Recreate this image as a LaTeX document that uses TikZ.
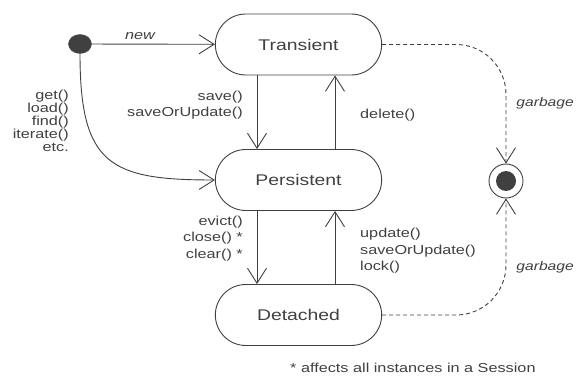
\documentclass[tikz,border=0pt]{standalone}
\usepackage{fontspec}
\setmainfont{Liberation Sans}[FakeStretch=1.25]
\usetikzlibrary{shapes.misc,shapes.geometric,arrows.meta}
\newcommand{\statewidth}{173pt}
\newcommand{\stateheight}{61pt}
\newcommand{\offL}{-41.5pt}
\newcommand{\offR}{36.5pt}

\begin{document}
\begin{tikzpicture}[x=1pt, y=-1pt, color=black!75,
        state/.style={draw, rounded rectangle, line width=0.9pt, minimum width=\statewidth, minimum height=\stateheight, font=\fontsize{15.5}{18}\selectfont},
        lbl/.style={inner sep=0pt, font=\fontsize{13}{16.5}\selectfont},
        arr/.style={-{Straight Barb[length=15pt, width=19pt]}, line width=0.9pt},
        gc/.style={arr, dash pattern=on 4pt off 3pt, rounded corners=50pt}]
        \useasboundingbox (0,0) rectangle (576,377);

        %states
        \node[draw, ellipse, fill, minimum width=23pt, minimum height=19pt, inner sep=0pt, name=init] at (80,44) {};
        \node[state, name=transient ] at (298.5,44.5) {Transient};
        \node[state, name=persistent] at (298.5,180)  {Persistent};
        \node[state, name=detached  ] at (298.5,315)  {Detached};
        \node[draw, circle, line width=0.9pt, minimum size=34pt, inner sep=0pt, name=final] at (506,181) {};
        \node[circle, fill, minimum size=20pt, inner sep=0pt, name=finaldot] at (506,181) {};

        %transitions
        \draw[arr] (init) -- (transient);
        \draw[arr] (init) .. controls (80,165) and (110,180) .. (persistent);
        \draw[arr] ([xshift=\offL]transient.south) -- ([xshift=\offL]persistent.north);
        \draw[arr] ([xshift=\offR]persistent.north) -- ([xshift=\offR]transient.south);
        \draw[arr] ([xshift=\offL]persistent.south) -- ([xshift=\offL]detached.north);
        \draw[arr] ([xshift=\offR]detached.north) -- ([xshift=\offR]persistent.south);
        \draw[gc] (transient) -| (final);
        \draw[gc] (detached) -| (final);

        %labels
        \node[lbl, font=\fontsize{13}{16.5}\itshape, name=newlbl] at (140,36) {new};
        \node[lbl, anchor=east, align=right, font=\fontsize{13}{13}\selectfont, name=findlbl] at (69,121) {get()\\load()\\find()\\iterate()\\etc.};
        \node[lbl, anchor=east, align=right, name=savelbl] at (243,105) {save()\\saveOrUpdate()};
        \node[lbl, anchor=west, name=deletelbl] at (360,115) {delete()};
        \node[lbl, anchor=east, align=right, name=evictlbl] at (243,238.5) {evict()\\close() *\\clear() *};
        \node[lbl, anchor=west, align=left, name=updatelbl] at (360,251) {update()\\saveOrUpdate()\\lock()};
        \node[lbl, anchor=east, font=\fontsize{12.5}{16}\itshape, name=gclblA] at (574,103) {garbage};
        \node[lbl, anchor=east, font=\fontsize{12.5}{16}\itshape, name=gclblB] at (574,267) {garbage};
        \node[lbl, anchor=west, name=note] at (290,368) {* affects all instances in a Session};
\end{tikzpicture}
\end{document}
